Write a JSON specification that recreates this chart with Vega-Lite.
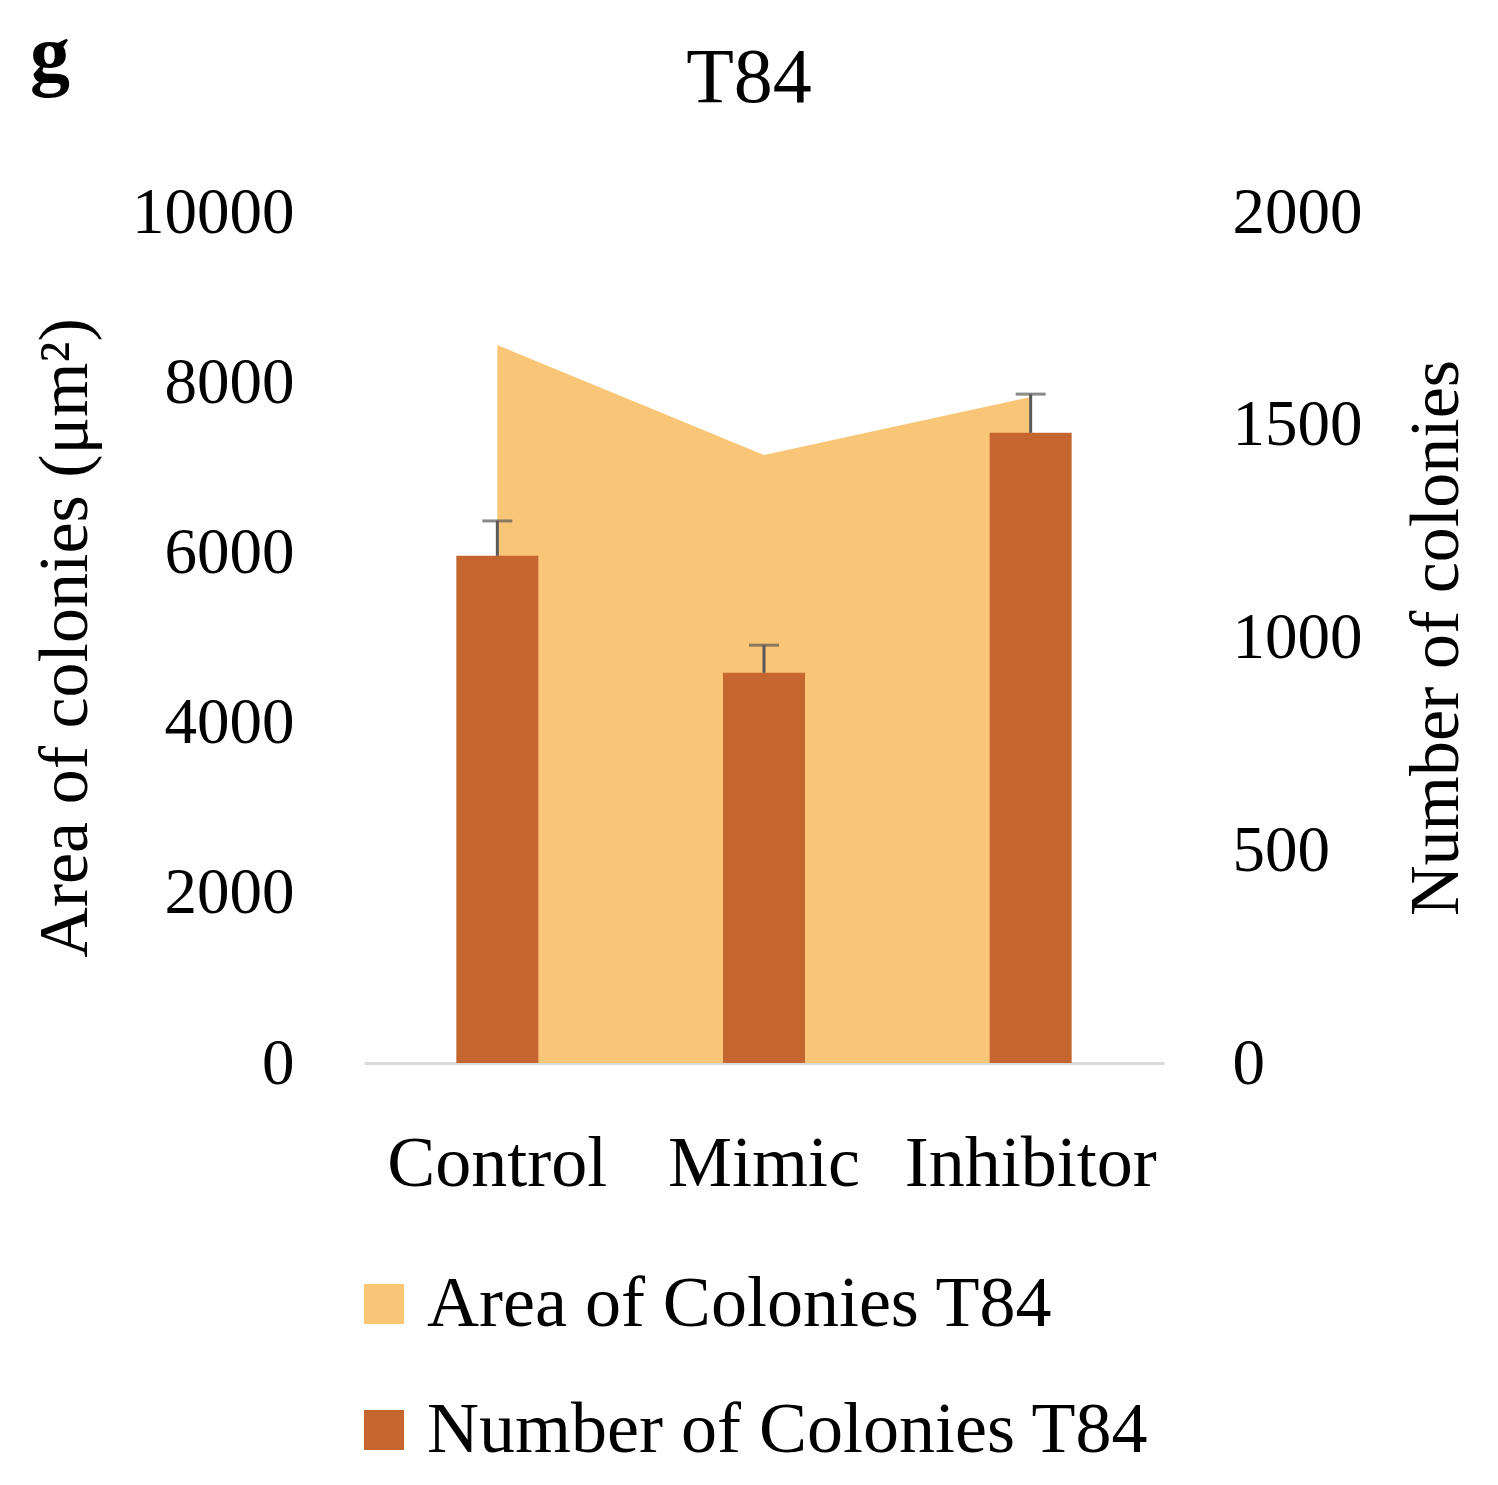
{
  "$schema": "https://vega.github.io/schema/vega-lite/v6.json",
  "autosize": {"type": "pad"},
  "padding": {"left": 30, "top": 17, "right": 0, "bottom": 0},
  "background": "white",
  "config": {"font": "Liberation Serif", "view": {"stroke": null}},
  "title": {"text": "g", "anchor": "start", "frame": "bounds", "fontSize": 80, "fontWeight": "bold", "font": "Liberation Serif", "color": "black", "offset": -58, "dx": 0},
  "data": {"values": [
    {"group": "Control", "area": 8437, "count": 1192, "count_hi": 1274},
    {"group": "Mimic", "area": 7145, "count": 917, "count_hi": 982},
    {"group": "Inhibitor", "area": 7826, "count": 1481, "count_hi": 1572}
  ]},
  "vconcat": [
    {
      "width": 800,
      "height": 851,
      "title": {"text": "T84", "fontSize": 78, "fontWeight": "normal", "font": "Liberation Serif", "color": "black", "offset": 62, "dx": -15},
      "encoding": {
        "x": {"field": "group", "type": "nominal", "sort": ["Control", "Mimic", "Inhibitor"],
          "axis": {"title": null, "labelAngle": 0, "labelFontSize": 72, "labelFont": "Liberation Serif", "labelColor": "black", "labelPadding": 65, "labelLimit": 500, "ticks": false, "domainColor": "#d9d9d9", "domainWidth": 3}}
      },
      "layer": [
        {
          "mark": {"type": "area"},
          "encoding": {
            "y": {"field": "area", "type": "quantitative", "scale": {"domain": [0, 10000]},
              "axis": {"values": [0, 2000, 4000, 6000, 8000, 10000], "format": "d", "grid": false, "domain": false, "ticks": false, "labelFontSize": 65, "labelFont": "Liberation Serif", "labelColor": "black", "labelPadding": 70, "title": "Area of colonies (μm²)", "titleFontSize": 70, "titleFont": "Liberation Serif", "titleFontWeight": "normal", "titleColor": "black", "titlePadding": 63}},
            "color": {"datum": "Area of Colonies T84", "type": "nominal",
              "scale": {"domain": ["Area of Colonies T84", "Number of Colonies T84"], "range": ["#F9C677", "#C5652F"]},
              "legend": {"orient": "none", "legendX": -16, "legendY": 1056, "direction": "vertical", "title": null, "symbolType": "square", "symbolSize": 1600, "symbolStrokeWidth": 0, "labelFontSize": 72, "labelFont": "Liberation Serif", "labelColor": "black", "labelOffset": 7, "rowPadding": 54, "labelLimit": 1000}}
          }
        },
        {
          "layer": [
            {
              "mark": {"type": "bar", "size": 82},
              "encoding": {
                "y": {"field": "count", "type": "quantitative", "scale": {"domain": [0, 2000]},
                  "axis": {"orient": "right", "values": [0, 500, 1000, 1500, 2000], "format": "d", "grid": false, "domain": false, "ticks": false, "labelFontSize": 65, "labelFont": "Liberation Serif", "labelColor": "black", "labelPadding": 68, "title": "Number of colonies", "titleFontSize": 70, "titleFont": "Liberation Serif", "titleFontWeight": "normal", "titleColor": "black", "titleAngle": 270, "titleBaseline": "top", "titlePadding": 40}},
                "color": {"datum": "Number of Colonies T84", "type": "nominal"}
              }
            },
            {
              "mark": {"type": "rule", "color": "#595959", "strokeWidth": 3},
              "encoding": {
                "y": {"field": "count", "type": "quantitative"},
                "y2": {"field": "count_hi"}
              }
            },
            {
              "mark": {"type": "tick", "color": "#595959", "thickness": 3, "size": 30, "orient": "horizontal"},
              "encoding": {
                "y": {"field": "count_hi", "type": "quantitative"}
              }
            }
          ]
        }
      ],
      "resolve": {"scale": {"y": "independent"}}
    }
  ]
}
